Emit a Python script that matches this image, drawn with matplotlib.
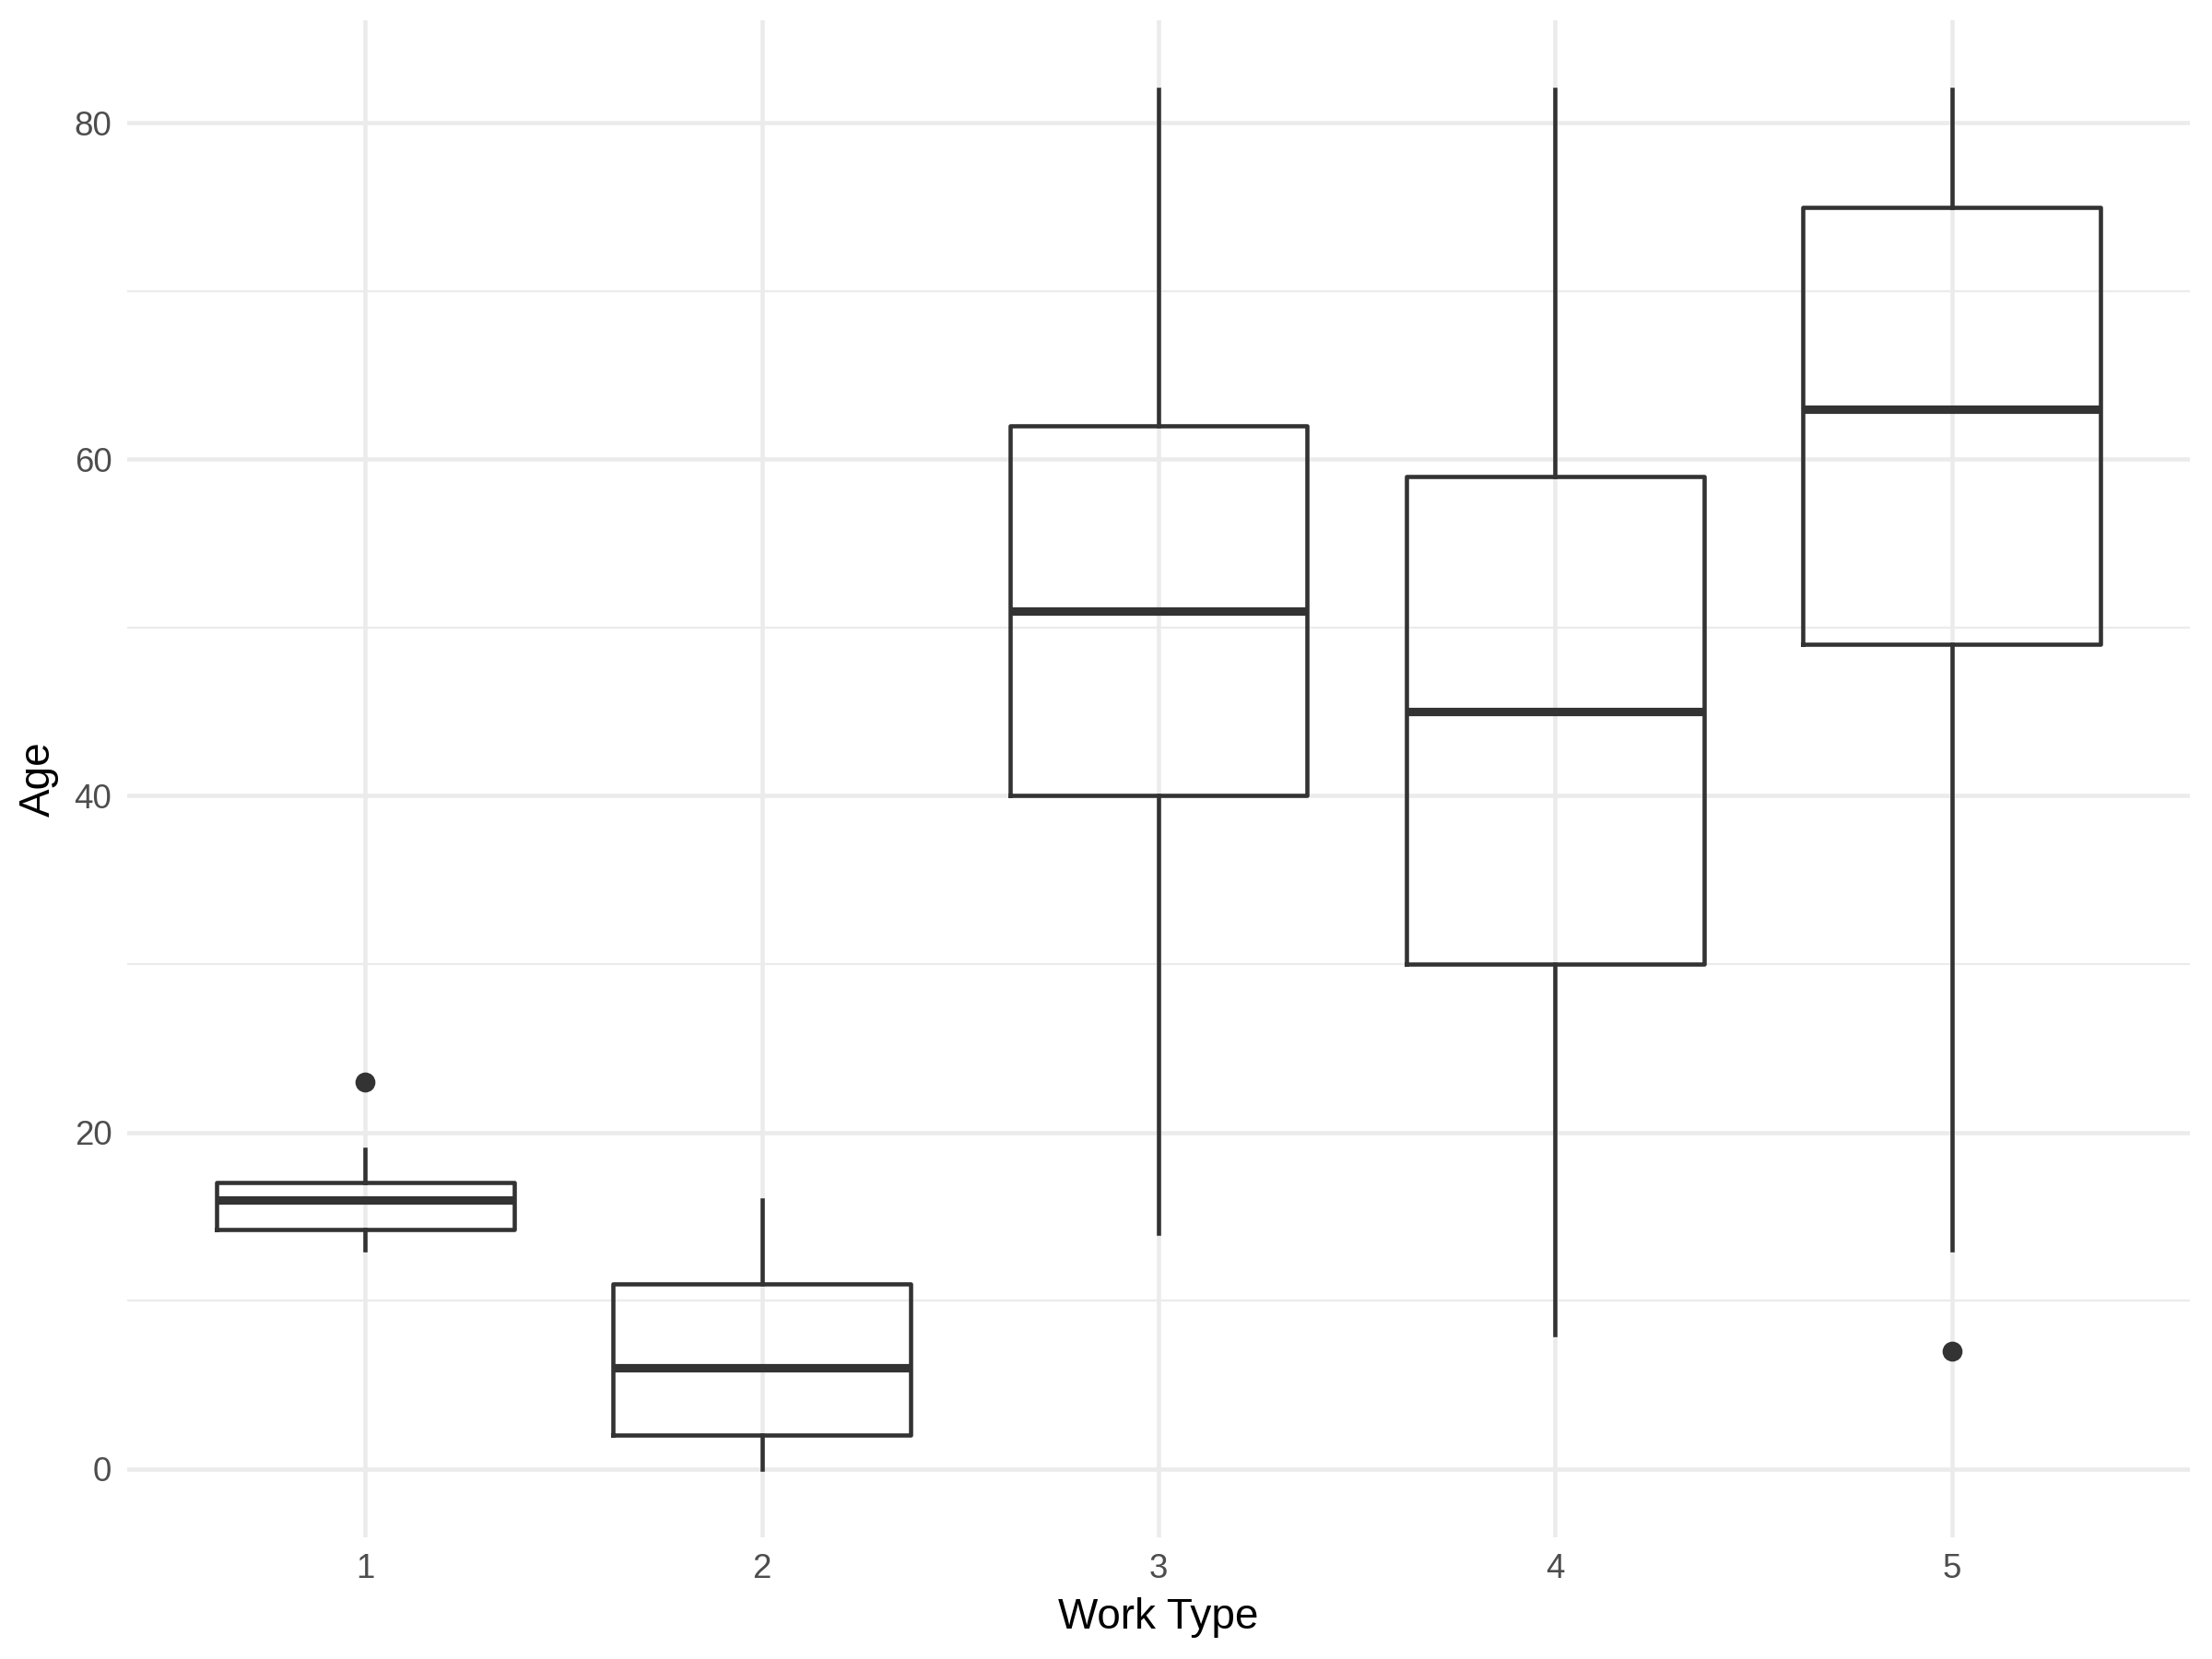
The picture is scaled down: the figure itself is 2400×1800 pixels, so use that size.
import matplotlib
matplotlib.use('Agg')
import matplotlib.pyplot as plt

# values (Age by Work Type)
work_types = [1, 2, 3, 4, 5]
whisker_low = [13, 0, 14, 8, 13]
q1 = [14.2, 2, 40, 30, 49]
medians = [16, 6, 51, 45, 63]
q3 = [17, 11, 62, 59, 75]
whisker_high = [19, 16, 82, 82, 82]
outliers = [[23], [], [], [], [7]]

line_col = '#333333'
grid_col = '#EBEBEB'

plt.rcParams['font.family'] = ['Liberation Sans', 'DejaVu Sans']

fig = plt.figure(figsize=(8, 6), dpi=300)
ax = fig.add_axes([0.0575, 0.0731, 0.9325, 0.9147])

stats = []
for i in range(len(work_types)):
    stats.append(dict(whislo=whisker_low[i], q1=q1[i], med=medians[i],
                      q3=q3[i], whishi=whisker_high[i], fliers=outliers[i]))

ax.bxp(stats, positions=work_types, widths=0.75, showcaps=False,
       boxprops=dict(color=line_col, linewidth=1.1),
       whiskerprops=dict(color=line_col, linewidth=1.1),
       medianprops=dict(color=line_col, linewidth=2.2, solid_capstyle='butt'),
       flierprops=dict(marker='o', markerfacecolor=line_col, markeredgecolor=line_col,
                       markersize=4.2, linestyle='none'),
       zorder=3)

ax.set_xlim(0.4, 5.6)
ax.set_ylim(-4.1, 86.1)
ax.set_xticks(work_types)
ax.set_xticklabels([str(w) for w in work_types])
ax.set_yticks([0, 20, 40, 60, 80])
ax.set_yticks([10, 30, 50, 70], minor=True)

ax.grid(which='major', color=grid_col, linewidth=1.1, zorder=0)
ax.grid(which='minor', axis='y', color=grid_col, linewidth=0.55, zorder=0)
ax.set_axisbelow(True)
for s in ax.spines.values():
    s.set_visible(False)
ax.tick_params(which='both', length=0, labelsize=8.8, labelcolor='#4D4D4D', pad=4)

ax.set_xlabel('Work Type', fontsize=11, labelpad=3)
ax.set_ylabel('Age', fontsize=11, labelpad=4)

fig.savefig('out.png', dpi=300)
